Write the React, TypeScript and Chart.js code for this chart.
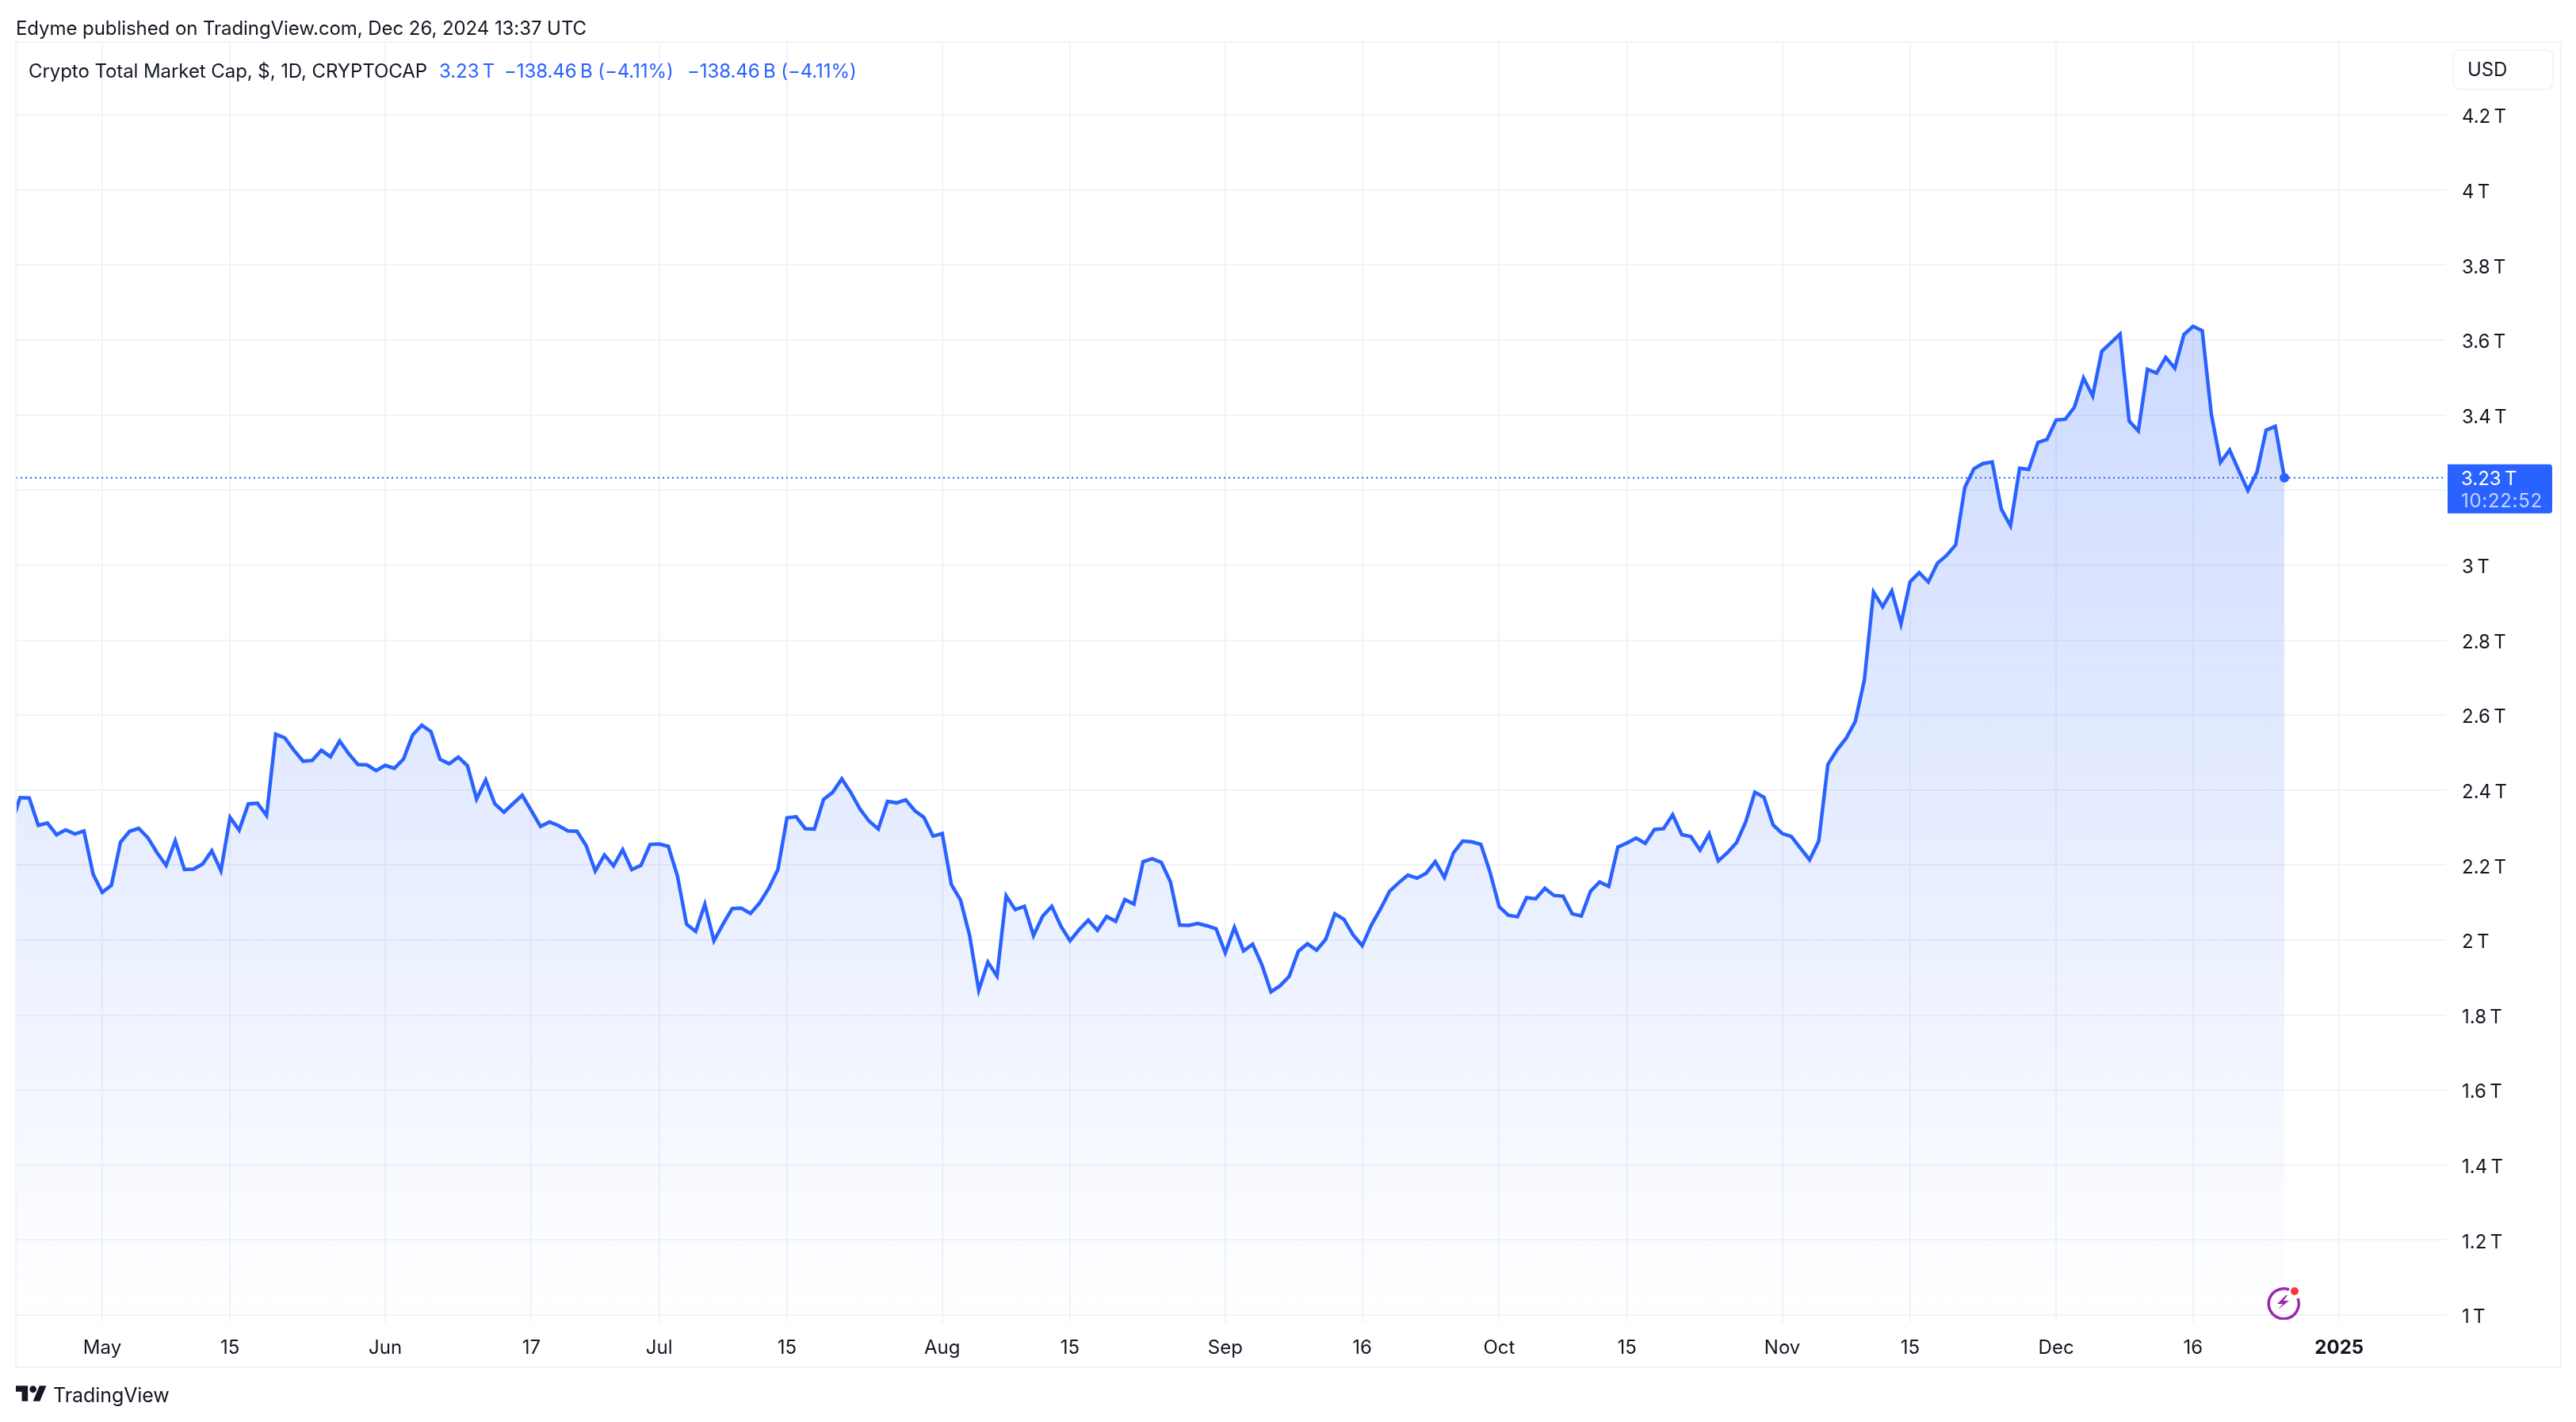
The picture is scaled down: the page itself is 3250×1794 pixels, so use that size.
import React, { useEffect, useRef } from "react";
import { Chart, registerables } from "chart.js";

Chart.register(...registerables);

// Days counted from 1 May 2024; the first value belongs to day -10 (21 Apr), the last to day 239 (26 Dec).
const firstDay = -10;
const marketCapT = [
  2.304, 2.38, 2.379, 2.306, 2.312, 2.281, 2.294, 2.283, 2.291, 2.176,
  2.127, 2.146, 2.261, 2.29, 2.298, 2.273, 2.233, 2.199, 2.265, 2.188,
  2.189, 2.203, 2.238, 2.185, 2.327, 2.293, 2.363, 2.365, 2.332, 2.549,
  2.539, 2.506, 2.477, 2.479, 2.506, 2.489, 2.531, 2.497, 2.468, 2.467,
  2.452, 2.466, 2.458, 2.483, 2.547, 2.573, 2.556, 2.482, 2.47, 2.488,
  2.465, 2.376, 2.427, 2.363, 2.341, 2.364, 2.386, 2.345, 2.303, 2.315,
  2.305, 2.291, 2.29, 2.252, 2.184, 2.227, 2.198, 2.241, 2.188, 2.199,
  2.255, 2.256, 2.25, 2.171, 2.042, 2.023, 2.095, 1.998, 2.043, 2.084,
  2.085, 2.071, 2.099, 2.138, 2.188, 2.326, 2.329, 2.297, 2.296, 2.375,
  2.394, 2.43, 2.393, 2.349, 2.317, 2.296, 2.37, 2.366, 2.374, 2.345,
  2.327, 2.277, 2.284, 2.148, 2.107, 2.012, 1.866, 1.941, 1.904, 2.118,
  2.081, 2.09, 2.012, 2.064, 2.09, 2.037, 1.998, 2.028, 2.053, 2.026,
  2.063, 2.05, 2.108, 2.096, 2.209, 2.217, 2.207, 2.155, 2.04, 2.039,
  2.044, 2.038, 2.03, 1.966, 2.034, 1.971, 1.989, 1.935, 1.862, 1.878,
  1.903, 1.97, 1.99, 1.973, 2.002, 2.07, 2.055, 2.014, 1.985, 2.04,
  2.083, 2.13, 2.153, 2.173, 2.165, 2.178, 2.209, 2.167, 2.233, 2.264,
  2.262, 2.255, 2.181, 2.089, 2.066, 2.062, 2.113, 2.11, 2.138, 2.119,
  2.117, 2.07, 2.064, 2.13, 2.155, 2.143, 2.248, 2.259, 2.272, 2.258,
  2.295, 2.297, 2.334, 2.281, 2.276, 2.24, 2.283, 2.211, 2.233, 2.26,
  2.315, 2.394, 2.381, 2.307, 2.284, 2.276, 2.245, 2.214, 2.264, 2.468,
  2.507, 2.538, 2.583, 2.694, 2.928, 2.889, 2.931, 2.843, 2.955, 2.98,
  2.955, 3.005, 3.026, 3.054, 3.207, 3.257, 3.271, 3.275, 3.149, 3.105,
  3.258, 3.255, 3.327, 3.335, 3.387, 3.389, 3.421, 3.499, 3.451, 3.57,
  3.593, 3.616, 3.384, 3.358, 3.522, 3.512, 3.554, 3.525, 3.615, 3.637,
  3.625, 3.402, 3.274, 3.307, 3.252, 3.199, 3.248, 3.36, 3.37, 3.233,
];

const xTickDays = [0, 14, 31, 47, 61, 75, 92, 106, 123, 138, 153, 167, 184, 198, 214, 229, 245];
const xTickLabels = ["May", "15", "Jun", "17", "Jul", "15", "Aug", "15", "Sep", "16", "Oct", "15", "Nov", "15", "Dec", "16", "2025"];
const yTickValues = [1, 1.2, 1.4, 1.6, 1.8, 2, 2.2, 2.4, 2.6, 2.8, 3, 3.2, 3.4, 3.6, 3.8, 4, 4.2];
const yTickLabels = ["1\u2009T", "1.2\u2009T", "1.4\u2009T", "1.6\u2009T", "1.8\u2009T", "2\u2009T", "2.2\u2009T", "2.4\u2009T", "2.6\u2009T", "2.8\u2009T", "3\u2009T", "3.2\u2009T", "3.4\u2009T", "3.6\u2009T", "3.8\u2009T", "4\u2009T", "4.2\u2009T"];
const xRange = [-9.46, 256.7];
const yRange = [0.981, 4.395];
const priceLabel = "3.23\u2009T";
const countdownLabel = "10:22:52";

const BLUE = "#2962ff";
const GRID = "rgb(241,243,248)";
const TEXT = "#131722";
const FONT = "Inter, sans-serif";

const points = marketCapT.map((y, i) => ({ x: firstDay + i, y }));
const lastValue = marketCapT[marketCapT.length - 1];

const priceTag = {
  id: "priceTag",
  afterDraw(chart: any) {
    const { ctx, scales, chartArea } = chart;
    const y = scales.y.getPixelForValue(lastValue);
    const left = chartArea.right + 2;
    const top = y - 17;
    ctx.save();
    ctx.fillStyle = BLUE;
    ctx.beginPath();
    ctx.roundRect(left, top, 132, 62, [0, 4, 4, 0]);
    ctx.fill();
    ctx.textBaseline = "middle";
    ctx.textAlign = "left";
    ctx.font = `24px ${FONT}`;
    ctx.fillStyle = "#ffffff";
    ctx.fillText(priceLabel, left + 17, y + 2.5);
    ctx.fillStyle = "rgba(255,255,255,0.72)";
    ctx.letterSpacing = "0.7px";
    ctx.fillText(countdownLabel, left + 17, y + 30.5);
    ctx.restore();
  },
};

const abs = (left: number, top: number, extra: React.CSSProperties = {}): React.CSSProperties => ({
  position: "absolute",
  left,
  top,
  whiteSpace: "nowrap",
  fontFamily: FONT,
  ...extra,
});

const label = (size: number, color: string): React.CSSProperties => ({
  fontSize: size,
  lineHeight: "36px",
  letterSpacing: "-0.07px",
  color,
});

export default function App() {
  const ref = useRef<HTMLCanvasElement>(null);

  useEffect(() => {
    const chart = new Chart(ref.current as HTMLCanvasElement, {
      type: "line",
      plugins: [priceTag],
      data: {
        datasets: [
          {
            label: "Price line",
            data: [
              { x: xRange[0], y: lastValue },
              { x: xRange[1] - 0.35, y: lastValue },
            ],
            borderColor: BLUE,
            borderWidth: 2,
            borderDash: [2, 4],
            pointRadius: 0,
            fill: false,
            clip: 0,
            order: 2,
          },
          {
            label: "Crypto Total Market Cap",
            data: points,
            borderColor: BLUE,
            borderWidth: 4.5,
            tension: 0,
            borderJoinStyle: "miter",
            pointRadius: (c: any) => (c.dataIndex === marketCapT.length - 1 ? 6 : 0),
            pointBackgroundColor: BLUE,
            pointBorderWidth: 0,
            clip: 0,
            fill: "start",
            order: 1,
            backgroundColor: (c: any) => {
              const { chartArea, scales, ctx } = c.chart;
              if (!chartArea) return "rgba(41,98,255,0.1)";
              const top = scales.y.getPixelForValue(Math.max(...marketCapT));
              const g = ctx.createLinearGradient(0, top, 0, chartArea.bottom);
              g.addColorStop(0, "rgba(41,98,255,0.23)");
              g.addColorStop(1, "rgba(41,98,255,0)");
              return g;
            },
          },
        ] as any,
      },
      options: {
        responsive: false,
        animation: false,
        devicePixelRatio: 1,
        layout: { padding: { left: 20, top: 53, right: 20, bottom: 71 } },
        plugins: { legend: { display: false }, tooltip: { enabled: false } },
        scales: {
          x: {
            type: "linear",
            min: xRange[0],
            max: xRange[1],
            afterBuildTicks: (s: any) => {
              s.ticks = xTickDays.map((value) => ({ value }));
            },
            afterFit: (s: any) => {
              s.height = 55;
            },
            grid: { color: GRID, lineWidth: 2, drawTicks: false },
            border: { display: false },
            ticks: {
              autoSkip: false,
              maxRotation: 0,
              padding: 18,
              color: TEXT,
              font: (c: any) =>
                c.tick && c.tick.value === 245
                  ? { family: FONT, size: 24, weight: "bold" }
                  : { family: FONT, size: 24, weight: "normal" },
              callback: (v: any) => xTickLabels[xTickDays.indexOf(v)],
            },
          },
          y: {
            type: "linear",
            position: "right",
            min: yRange[0],
            max: yRange[1],
            afterBuildTicks: (s: any) => {
              s.ticks = yTickValues.map((value) => ({ value }));
            },
            afterFit: (s: any) => {
              s.width = 144;
            },
            grid: { color: GRID, lineWidth: 2, drawTicks: false },
            border: { display: false },
            ticks: {
              autoSkip: false,
              padding: 20,
              labelOffset: 3,
              color: TEXT,
              font: { family: FONT, size: 24 },
              callback: (v: any) => yTickLabels[yTickValues.indexOf(v)],
            },
          },
        },
      } as any,
    });
    return () => chart.destroy();
  }, []);

  return (
    <div style={{ position: "absolute", left: 0, top: 0, width: 3250, height: 1794, background: "#fff", overflow: "hidden" }}>
      <canvas ref={ref} width={3250} height={1794} style={{ position: "absolute", left: 0, top: 0, width: 3250, height: 1794 }} />
      <div style={{ position: "absolute", left: 19, top: 52, width: 3209, height: 1670, border: `2px solid rgb(240,243,250)`, pointerEvents: "none" }} />
      <div style={abs(20, 18, label(24, TEXT))}>Edyme published on TradingView.com, Dec 26, 2024 13:37 UTC</div>
      <div style={abs(36, 72, label(24, TEXT))}>Crypto Total Market Cap, $, 1D, CRYPTOCAP</div>
      <div style={abs(554, 72, label(24, BLUE))}>3.23{"\u2009"}T</div>
      <div style={abs(636, 72, label(24, BLUE))}>−138.46{"\u2009"}B (−4.11%)</div>
      <div style={abs(867, 72, label(24, BLUE))}>−138.46{"\u2009"}B (−4.11%)</div>
      <div style={{ position: "absolute", left: 3094, top: 62, width: 128, height: 52, boxSizing: "border-box", border: "2px solid rgb(240,243,250)", borderRadius: 10, background: "#fff" }} />
      <div style={abs(3113, 70, label(24, TEXT))}>USD</div>
      <svg style={{ position: "absolute", left: 2859, top: 1621 }} width="44" height="44" viewBox="0 0 44 44">
        <path d="M 29 6 A 19 19 0 1 0 40 17" fill="none" stroke="#9c27b0" strokeWidth="3.5" />
        <path d="M 25 13 L 14 24 L 21 24 L 15 31 L 29 20 L 22 20 L 27 13 Z" fill="#9c27b0" />
        <circle cx="36" cy="8" r="5" fill="#f7363b" />
      </svg>
      <svg style={{ position: "absolute", left: 20, top: 1748 }} width="39" height="20" viewBox="0 4 36 18">
        <path d="M14 22H7V11H0V4h14v18zM28 22h-8l7.5-18h8L28 22z" fill={TEXT} />
        <circle cx="20" cy="8" r="4" fill={TEXT} />
      </svg>
      <div style={abs(67, 1742, label(25, TEXT))}>TradingView</div>
    </div>
  );
}
